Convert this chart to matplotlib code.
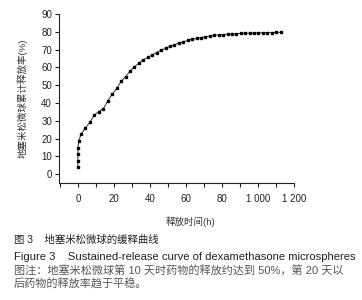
import matplotlib
matplotlib.use('Agg')
import matplotlib.pyplot as plt

plt.rcParams['font.family'] = ['Liberation Sans', 'Noto Sans CJK SC', 'DejaVu Sans']

# release time (h) and cumulative release (%)
time_h = [0, 0, 0, 0, 0.5, 1.7, 4.2, 6.7, 9.2, 11.7, 14.2, 16.6, 19.1, 21.6, 24.0,
          26.5, 29.0, 31.4, 33.9, 36.3, 38.8, 41.3, 43.7, 46.2, 48.7, 51.1, 53.6,
          56.0, 58.5, 61.0, 63.4, 65.9, 68.3, 70.8, 73.3, 75.7, 78.2, 80.6, 83.1,
          85.6, 88.0, 90.5, 93.0, 95.4, 97.9, 100.3, 102.8, 105.3, 107.7, 110.2, 112.7]
release = [3.8, 7.3, 11.2, 14.8, 18.6, 22.3, 26.0, 29.2, 33.4, 35.2, 36.9, 41.2, 45.0,
           48.2, 52.1, 54.9, 57.9, 60.4, 62.4, 64.3, 65.6, 67.1, 68.4, 69.7, 70.9, 71.8,
           72.7, 73.7, 74.4, 75.2, 75.8, 76.3, 76.8, 77.2, 77.6, 78.0, 78.3, 78.5, 78.7,
           78.9, 79.0, 79.1, 79.2, 79.3, 79.4, 79.5, 79.5, 79.6, 79.6, 79.7, 79.8]

x_ticks = [0, 20, 40, 60, 80, 100, 120]
x_labels = ['0', '20', '40', '60', '80', '1 000', '1 200']
y_ticks = [0, 10, 20, 30, 40, 50, 60, 70, 80, 90]

fig = plt.figure(figsize=(3.62, 3.0), dpi=100)
ax = fig.add_axes([0.163, 0.39, 0.649, 0.563])

ax.plot(time_h, release, color='#333333', lw=0.7, marker='s', ms=1.5,
        mfc='black', mec='black')

ax.set_xlim(-10.5, 120)
ax.set_ylim(-5, 90)
ax.set_xticks(x_ticks)
ax.set_xticklabels(x_labels)
ax.set_xticks(range(-10, 121, 10), minor=True)
ax.set_yticks(y_ticks)
ax.tick_params(axis='both', which='both', direction='out', length=3, width=0.8,
               labelsize=7, colors='#222222', pad=2)
ax.tick_params(axis='x', pad=5)
for s in ['top', 'right']:
    ax.spines[s].set_visible(False)
for s in ['left', 'bottom']:
    ax.spines[s].set_linewidth(0.8)
    ax.spines[s].set_color('#222222')

ax.set_ylabel('地塞米松微球累计释放率(%)', fontsize=6.8, color='#333333', labelpad=10)
fig.text(191 / 362, 1 - 222 / 300, '释放时间(h)', fontsize=6.8, color='#333333',
         ha='center', va='center')

fig.text(14 / 362, 1 - 240 / 300, '图 3    地塞米松微球的缓释曲线', fontsize=7.5,
         color='#222222', ha='left', va='center')
fig.text(14 / 362, 1 - 257 / 300,
         'Figure 3    Sustained-release curve of dexamethasone microspheres',
         fontsize=8.1, color='#222222', ha='left', va='center')
fig.text(14 / 362, 1 - 270 / 300,
         '图注：地塞米松微球第 10 天时药物的释放约达到 50%，第 20 天以',
         fontsize=8.0, color='#555555', ha='left', va='center')
fig.text(14 / 362, 1 - 283 / 300, '后药物的释放率趋于平稳。', fontsize=8.0,
         color='#555555', ha='left', va='center')

fig.savefig('out.png', dpi=100, facecolor='white')
